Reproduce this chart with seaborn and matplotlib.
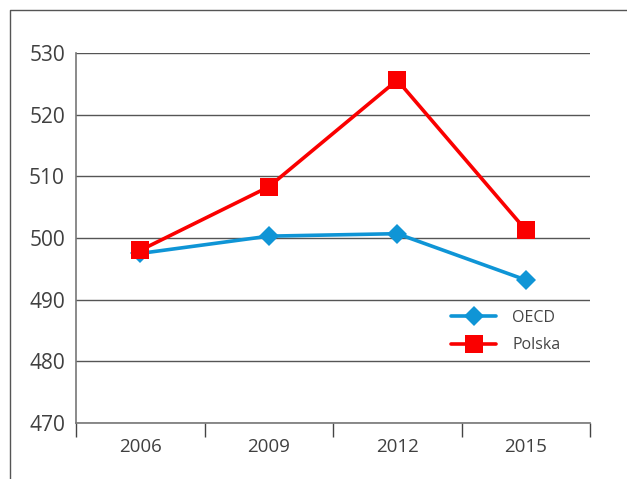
import matplotlib
matplotlib.use("Agg")
import matplotlib.pyplot as plt
import pandas as pd
import seaborn as sns
from matplotlib.lines import Line2D

YEARS = ["2006", "2009", "2012", "2015"]
OECD = [497.5, 500.3, 500.7, 493.2]
POLSKA = [498.0, 508.3, 525.6, 501.3]
Y_TICKS = [470, 480, 490, 500, 510, 520, 530]

df = pd.DataFrame({
    "rok": YEARS * 2,
    "wynik": OECD + POLSKA,
    "kraj": ["OECD"] * len(YEARS) + ["Polska"] * len(YEARS),
})

sns.set_style("white")
plt.rcParams["font.family"] = ["Open Sans", "DejaVu Sans"]

fig = plt.figure(figsize=(6.27, 4.79), dpi=100)
ax = fig.add_axes([76 / 627, 1 - 423 / 479, (590 - 76) / 627, (423 - 53) / 479])

colors = {"OECD": "#0f95d6", "Polska": "#fa0000"}
markers = {"OECD": "D", "Polska": "s"}
sizes = {"OECD": 10, "Polska": 13}

for name in ["OECD", "Polska"]:
    sub = df[df["kraj"] == name]
    sns.lineplot(data=sub, x="rok", y="wynik", ax=ax, color=colors[name],
                 marker=markers[name], markersize=sizes[name],
                 markeredgewidth=0, linewidth=2.6, label=name, sort=False)

ax.set_xlim(-0.5, len(YEARS) - 0.5)
ax.set_ylim(470, 530)
ax.set_yticks(Y_TICKS)
ax.set_xticks(range(len(YEARS)))
ax.set_xticklabels(YEARS)
ax.set_xticks([i - 0.5 for i in range(len(YEARS) + 1)], minor=True)
ax.tick_params(axis="x", which="major", bottom=False, length=0, pad=11,
               labelsize=13.5, labelcolor="#404040")
ax.tick_params(axis="x", which="minor", bottom=True, length=10, width=1,
               color="#444444", direction="out")
ax.tick_params(axis="y", left=False, length=0, pad=8, labelsize=15, labelcolor="#404040")
ax.set_xlabel("")
ax.set_ylabel("")

ax.yaxis.grid(True, color="#555555", linewidth=1)
ax.set_axisbelow(True)
for side in ["top", "right"]:
    ax.spines[side].set_visible(False)
for side in ["left", "bottom"]:
    ax.spines[side].set_color("#777777")
    ax.spines[side].set_linewidth(1.2)

leg = ax.legend(loc="lower right", bbox_to_anchor=(0.97, 0.149), frameon=False,
                fontsize=11.5, handlelength=2.8, labelspacing=0.75, handletextpad=1.0)
for t in leg.get_texts():
    t.set_color("#444444")

# outer frame
fx = 10 / 627
fy = 1 - 10 / 479
fig.add_artist(Line2D([fx, fx, 1], [0, fy, fy], transform=fig.transFigure,
                      color="#555555", linewidth=1))

fig.savefig("out.png", dpi=100)
